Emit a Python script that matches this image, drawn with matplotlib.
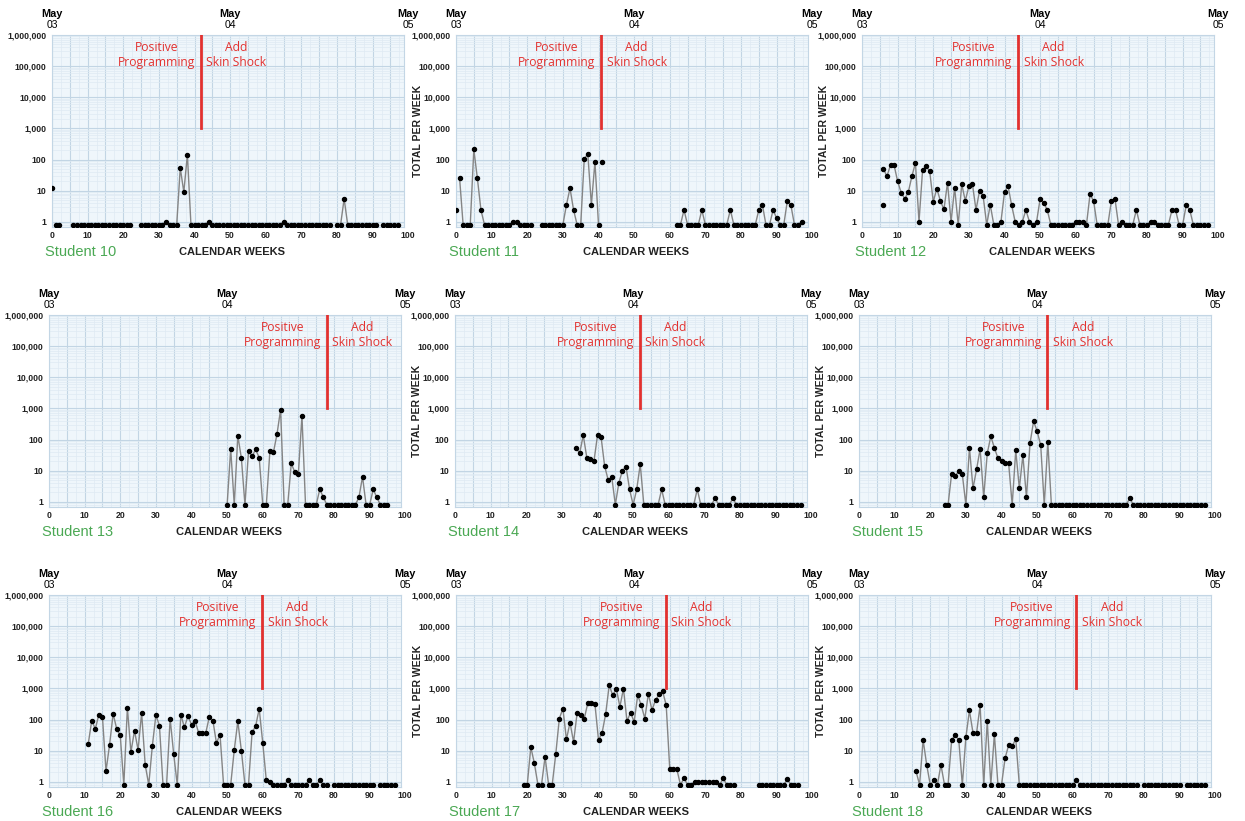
import matplotlib.pyplot as plt
import matplotlib.transforms as mtransforms
from matplotlib.ticker import MultipleLocator, LogLocator, FuncFormatter, NullFormatter
import numpy as np

plt.rcParams['font.family'] = ['Liberation Sans', 'DejaVu Sans']

# ---- data: weekly totals (0 = no responses, None = no data that week) ----
s10_start = 1
s10_values = [0, 0, None, None, None,
              0, 0, 0, 0, 0, 0, 0, 0, 0, 0, 0, 0, 0, 0, 0, 0, 0,
              None, None,
              0, 0, 0, 0, 0, 0, 0,
              1, 0, 0, 0, 54, 9, 145,
              0, 0, 0, 0, 0, 1,
              0, 0, 0, 0, 0, 0, 0, 0, 0, 0, 0, 0, 0, 0, 0, 0, 0, 0, 0, 0,
              1,
              0, 0, 0, 0, 0, 0, 0, 0, 0, 0, 0, 0, 0,
              None, 0, 0, 5.5,
              0, 0, 0, 0, 0, 0, 0, 0, 0,
              None, 0, 0, 0, 0, 0]
s10_extra_weeks = [0]
s10_extra_values = [12]

s11_start = 1
s11_values = [26, 0, 0, 0, 210, 25, 2.4,
              0, 0, 0, 0, 0, 0, 0, 0, 1, 1, 0, 0, 0, 0,
              None, None,
              0, 0, 0, 0, 0, 0, 0,
              3.5, 12, 2.4, 0, 0, 105, 150, 3.5, 85, 0,
              None, None, None, None, None, None, None, None, None, None, None,
              None, None, None, None, None, None, None, None, None, None,
              0, 0, 2.4, 0, 0, 0, 0, 2.4, 0, 0, 0, 0, 0, 0, 0, 2.4,
              0, 0, 0, 0, 0, 0, 0, 2.4, 3.5, 0, 0, 2.4, 1.3, 0, 0, 4.7, 3.4, 0, 0, 1]
s11_extra_weeks = [0, 41]
s11_extra_values = [2.4, 82]

s12_start = 6
s12_values = [50, 29, 66, 66, 20, 8.6, 5.5, 9, 29, 78, 1, 45, 61, 42, 4.4, 11.6,
              4.7, 2.5, 18, 1, 12.5, 0, 16, 4.7, 14, 16, 2.4, 10, 6.7, 0, 3.5, 0,
              0, 1, 9, 14, 3.4, 1, 0, 1, 2.4, 1, 0, 1, 5.5, 4.1, 2.4, 0,
              0, 0, 0, 0, 0, 0, 1, 1, 1, 0, 7.6, 4.7, 0, 0, 0, 0, 4.7, 5.5,
              0, 1, 0, 0, 0, 2.4, 0, 0, 0, 1, 1, 0, 0, 0, 0, 2.4, 2.4, 0, 0,
              3.4, 2.4, 0, 0, 0, 0, 0]
s12_extra_weeks = [6]
s12_extra_values = [3.4]

s13_start = 50
s13_values = [0, 50, 0, 134, 25, 0, 42, 29, 48, 26, 0, 0, 42, 39, 150, 910,
              0, 0, 17, 9, 8, 580, 0, 0, 0, 0, 2.5, 1.4, 0,
              0, 0, 0, 0, 0, 0, 0, 0,
              1.4, 6.4, 0, 0, 2.5, 1.4, 0, 0, 0]

s14_start = 34
s14_values = [52, 37, 137, 26, 24, 20, 137, 121, 14, 5, 6.3, 0, 4.1, 10, 13.4,
              2.5, 0, 2.5, 16, 0, 0, 0, 0, 0, 2.5,
              0, 0, 0, 0, 0, 0, 0, 0, 0, 2.5, 0, 0, 0, 0, 1.3, 0, 0, 0, 0, 1.3,
              0, 0, 0, 0, 0, 0, 0, 0, 0, 0, 0, 0, 0, 0, 0, 0, 0, 0, 0]

s15_start = 24
s15_values = [0, 0, 8, 6.7, 9.7, 7.6, 0, 54, 2.7, 11, 50, 1.4, 36, 127, 54, 25,
              20, 18, 17, 0, 45, 2.7, 31, 1.4, 75, 385, 185, 66, 0, 82,
              0, 0, 0, 0, 0, 0, 0, 0, 0, 0, 0, 0, 0, 0, 0, 0, 0, 0, 0, 0, 0, 0,
              1.3,
              0, 0, 0, 0, 0, 0, 0, 0, 0, 0, 0, 0, 0, 0, 0, 0, 0, 0, 0, 0, 0]

s16_start = 11
s16_values = [16, 93, 50, 145, 122, 2.2, 15.5, 153, 50, 31, 0, 240, 9, 44, 10.6,
              165, 3.5, 0, 14, 138, 64, 0, 0, 107, 7.7, 0, 145, 56, 128, 69, 93,
              37, 36, 37, 122, 93, 17.5, 33, 0, 0, 0, 10.6, 88, 9.9, 0, 0, 39,
              61, 222, 17.5, 1.1, 1, 0, 0, 0, 0, 1.1, 0, 0, 0, 0, 0, 1.1, 0, 0,
              1.1, 0, 0, None,
              0, 0, 0, 0, 0, 0, 0, 0, 0, 0, 0, 0,
              None, 0, 0, 0, 0, 0]

s17_start = 19
s17_values = [0, 0, 13, 3.9, 0, 0, 6.3, 0, 0, 7.7, 107, 225, 23, 80, 19, 163,
              137, 107, 340, 340, 310, 22, 37, 148, 1260, 600, 990, 255, 990,
              88, 168, 84, 600, 288, 107, 680, 200, 420, 640, 800, 290,
              2.5, 2.5, 2.5, 0, 1.3, 0, 0, 1, 1, 1, 1, 1, 1, 1, 0, 1.3, 0, 0, 0,
              None, None, None, None, None, None,
              0, 0, 0, 0, 0, 0, 0, 0, 1.2, 0, 0, 0]

s18_start = 16
s18_values = [2.2, 0, 22, 3.5, 0, 1.1, 0, 3.5, 0, 0, 22, 31, 22, 0, 27, 195, 37,
              37, 285, 0, 88, 0, 34, 0, 0, 5.7, 15, 13.7, 24,
              0, 0, 0, 0, 0, 0, 0, 0, 0, 0, 0, 0, 0, 0, 0, 0,
              1.1,
              0, 0, 0, 0, 0, 0, 0, 0, 0, 0, 0, 0, 0, 0, 0, 0, 0,
              None, 0, 0, 0, 0, 0, 0, 0, 0, 0, 0, 0,
              None, 0, 0, 0, 0, 0, 0]

student_names = ['Student 10', 'Student 11', 'Student 12', 'Student 13', 'Student 14',
                 'Student 15', 'Student 16', 'Student 17', 'Student 18']
phase_weeks = [41.8, 40.7, 43.8, 77.9, 51.8, 52.9, 59.8, 58.9, 61.0]
y_ticks = [1, 10, 100, 1000, 10000, 100000, 1000000]
y_tick_labels = ['1', '10', '100', '1,000', '10,000', '100,000', '1,000,000']
last_week_label = 100
date_weeks = [0, 50, 100]
date_years = ['03', '04', '05']

series = [
    (s10_start, s10_values, s10_extra_weeks, s10_extra_values),
    (s11_start, s11_values, s11_extra_weeks, s11_extra_values),
    (s12_start, s12_values, s12_extra_weeks, s12_extra_values),
    (s13_start, s13_values, [], []),
    (s14_start, s14_values, [], []),
    (s15_start, s15_values, [], []),
    (s16_start, s16_values, [], []),
    (s17_start, s17_values, [], []),
    (s18_start, s18_values, [], []),
]

ZERO_LEVEL = 0.8   # where a zero week is drawn on the log axis
RED = '#e2312f'
GREEN = '#4aa853'
TICK_SIZE = 6.3

W, H = 1245, 821
fig = plt.figure(figsize=(W / 100, H / 100), dpi=100)

row_tops = [35, 315, 595]
col_lefts = [[52, 456, 862], [49, 455, 859], [49, 456, 859]]
ax_w, ax_h = 352, 192


def to_plot(v):
    if v is None:
        return np.nan
    return ZERO_LEVEL if v == 0 else v


for i, (start, vals, ex_w, ex_v) in enumerate(series):
    r, c = divmod(i, 3)
    left = col_lefts[r][c]
    top = row_tops[r]
    ax = fig.add_axes([left / W, 1 - (top + ax_h) / H, ax_w / W, ax_h / H])
    ax.set_facecolor('#eff6fb')
    ax.set_yscale('log')
    ax.set_ylim(0.68, 1e6)
    ax.set_xlim(0, 98.8)

    # grid
    ax.xaxis.set_major_locator(MultipleLocator(5))
    ax.xaxis.set_minor_locator(MultipleLocator(2.5))
    ax.xaxis.set_major_formatter(FuncFormatter(lambda v, p: '%d' % v if v % 10 == 0 else ''))
    ax.set_yticks(y_ticks)
    ax.set_yticklabels(y_tick_labels)
    ax.yaxis.set_minor_locator(LogLocator(base=10, subs=np.arange(2, 10)))
    ax.yaxis.set_minor_formatter(NullFormatter())
    ax.grid(which='major', color='#c2d5e4', lw=0.8)
    ax.grid(which='minor', color='#dfeaf3', lw=0.5)
    ax.set_axisbelow(True)
    ax.tick_params(which='both', length=0)
    ax.tick_params(axis='y', pad=4, labelsize=TICK_SIZE, labelcolor='#222222')
    ax.tick_params(axis='x', pad=3, labelsize=TICK_SIZE, labelcolor='#222222')
    for lab in ax.get_xticklabels() + ax.get_yticklabels():
        lab.set_fontweight('bold')
    for sp in ax.spines.values():
        sp.set_color('#c3d6e5')
        sp.set_linewidth(0.8)

    trans = mtransforms.blended_transform_factory(ax.transData, ax.transAxes)
    # the "100" label sits just past the right edge of the plotted range
    ax.annotate(str(last_week_label), xy=(last_week_label, 0), xycoords=trans,
                xytext=(0, -3), textcoords='offset points', ha='center', va='top',
                fontsize=TICK_SIZE, fontweight='bold', color='#222222',
                annotation_clip=False)

    # data
    weeks = start + np.arange(len(vals))
    y = np.array([to_plot(v) for v in vals], dtype=float)
    ax.plot(weeks, y, color='#858585', lw=1.0, marker='o', ms=2.9,
            mfc='black', mec='black', zorder=3)
    if ex_w:
        ax.plot(ex_w, ex_v, 'o', color='black', ms=2.9, zorder=3)

    # phase change line and labels
    px = phase_weeks[i]
    ax.plot([px, px], [1000, 1e6], color=RED, lw=2, zorder=4)
    ax.annotate('Positive\nProgramming', xy=(px, 0.895), xycoords=trans,
                xytext=(-4, 0), textcoords='offset points', ha='right', va='center',
                multialignment='center', color=RED, fontsize=8.7,
                family=['Open Sans', 'DejaVu Sans'], linespacing=1.2)
    ax.annotate('Add\nSkin Shock', xy=(px, 0.895), xycoords=trans,
                xytext=(4, 0), textcoords='offset points', ha='left', va='center',
                multialignment='center', color=RED, fontsize=8.7,
                family=['Open Sans', 'DejaVu Sans'], linespacing=1.2)

    # date labels above
    for dw, yr in zip(date_weeks, date_years):
        ax.text(dw, 1.109, 'May', transform=trans, ha='center', va='center',
                fontsize=7.8, fontweight='bold', clip_on=False)
        ax.text(dw, 1.052, yr, transform=trans, ha='center', va='center',
                fontsize=7.5, clip_on=False)

    ax.text(50.5, -0.13, 'CALENDAR WEEKS', transform=trans, ha='center', va='center',
            fontsize=8, fontweight='bold', color='#222222')
    ax.text(-0.02, -0.13, student_names[i], transform=ax.transAxes, ha='left',
            va='center', fontsize=10.5, color=GREEN)
    if c > 0:
        ax.text(-0.108, 0.5, 'TOTAL PER WEEK', transform=ax.transAxes, rotation=90,
                ha='center', va='center', fontsize=7.5, fontweight='bold', color='#222222')

fig.savefig('out.png', dpi=100)
